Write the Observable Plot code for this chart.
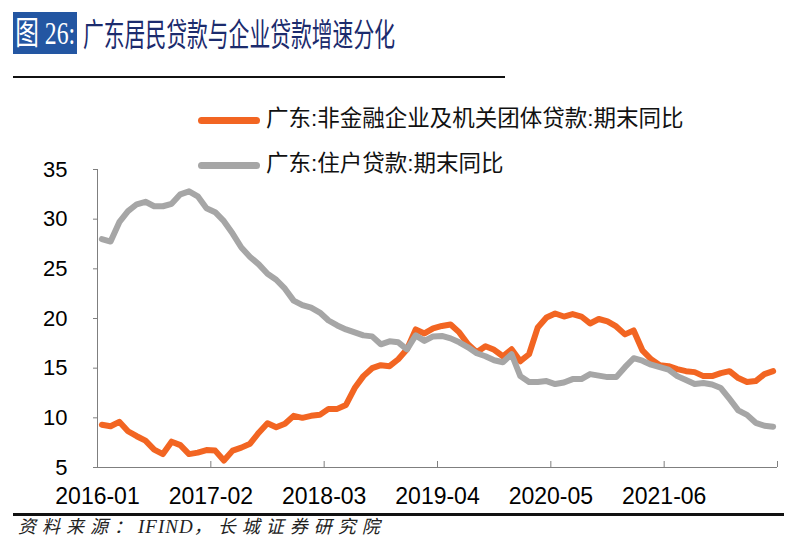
<!DOCTYPE html>
<html><head><meta charset="utf-8">
<script src="https://cdn.jsdelivr.net/npm/d3@7"></script>
<script src="https://cdn.jsdelivr.net/npm/@observablehq/plot@0.6"></script>
<style>
body{margin:0;background:#fff;width:812px;height:551px;position:relative;overflow:hidden;font-family:"Liberation Sans","Noto Sans CJK SC",sans-serif;}
#badge{position:absolute;left:13px;top:12px;width:64px;height:42px;background:#2356a2;color:#fff;overflow:hidden;}
#badge span{display:inline-block;white-space:nowrap;font-family:"Liberation Serif","Noto Sans CJK SC",serif;font-weight:normal;font-size:32px;line-height:42px;transform:scaleX(0.74);transform-origin:left center;padding-left:3px;}
#title{position:absolute;left:83px;top:11px;height:42px;color:#1b2b6d;white-space:nowrap;}
#title span{display:inline-block;font-family:"Noto Sans CJK SC",sans-serif;font-size:32px;line-height:42px;transform:scaleX(0.65);transform-origin:left center;}
.rule{position:absolute;background:#111;}
.lg-line{position:absolute;height:7px;border-radius:4px;}
.lg-text{position:absolute;font-size:22.5px;line-height:28px;color:#111;white-space:nowrap;}
#chart{position:absolute;left:0;top:95px;}
#source{position:absolute;left:18px;top:516px;font-family:"Liberation Serif","Noto Sans CJK SC",serif;font-style:italic;font-size:18px;line-height:22px;color:#222;white-space:nowrap;}
#source .cjk{letter-spacing:6px;}
#source .lat{letter-spacing:1px;font-size:19px;}
</style>
</head><body>
<div id="badge"><span>图 26:</span></div>
<div id="title"><span>广东居民贷款与企业贷款增速分化</span></div>
<div class="rule" style="left:13px;top:76px;width:492px;height:2px;"></div>
<div id="legend"></div>
<div id="chart"></div>
<div class="rule" style="left:13px;top:513px;width:771px;height:3px;"></div>
<div id="source"><span class="cjk">资料来源：</span><span class="lat">IFIND</span><span class="cjk">，长城证券研究院</span></div>
<script>
// categories: monthly, 2016-01 .. 2022-06
const startMonth = "2016-01";
const monthCount = 78;
const tickLabels = ["2016-01","2017-02","2018-03","2019-04","2020-05","2021-06"];
const yTicks = [5,10,15,20,25,30,35];
const seriesNames = ["广东:非金融企业及机关团体贷款:期末同比","广东:住户贷款:期末同比"];
const seriesColors = ["#f26522","#a6a6a6"];

// 广东:非金融企业及机关团体贷款:期末同比
const enterprise = [
 9.3, 9.15, 9.6, 8.65, 8.15, 7.7, 6.8, 6.35, 7.6, 7.25,
 6.35, 6.5, 6.75, 6.7, 5.7, 6.7, 7.0, 7.4, 8.5, 9.45,
 9.05, 9.4, 10.2, 10.0, 10.2, 10.3, 10.9, 10.9, 11.3, 13.0,
 14.2, 15.0, 15.3, 15.2, 15.9, 16.9, 18.9, 18.5, 19.0, 19.25,
 19.4, 18.6, 17.4, 16.6, 17.2, 16.85, 16.2, 16.9, 15.7, 16.4,
 19.1, 20.1, 20.5, 20.2, 20.45, 20.2, 19.5, 19.95, 19.7, 19.2,
 18.4, 18.8, 16.8, 15.9, 15.3, 15.2, 14.9, 14.7, 14.6, 14.2,
 14.2, 14.5, 14.7, 14.0, 13.6, 13.7, 14.4, 14.7
];
// 广东:住户贷款:期末同比
const household = [
 28.0, 27.75, 29.7, 30.8, 31.5, 31.75, 31.3, 31.3, 31.55, 32.5,
 32.8, 32.3, 31.1, 30.7, 29.8, 28.55, 27.15, 26.2, 25.45, 24.5,
 23.9, 23.0, 21.8, 21.35, 21.1, 20.6, 19.8, 19.3, 18.9, 18.6,
 18.3, 18.2, 17.4, 17.7, 17.6, 16.9, 18.3, 17.75, 18.2, 18.25,
 18.0, 17.6, 17.1, 16.5, 16.2, 15.8, 15.6, 16.4, 14.2, 13.6,
 13.6, 13.7, 13.4, 13.55, 13.9, 13.9, 14.4, 14.25, 14.1, 14.1,
 15.1, 16.0, 15.75, 15.35, 15.1, 14.85, 14.2, 13.8, 13.4, 13.5,
 13.35, 13.0, 11.9, 10.75, 10.3, 9.5, 9.2, 9.1
];

const fmt = d3.utcFormat("%Y-%m");
const start = d3.utcParse("%Y-%m")(startMonth);
const months = d3.utcMonth.range(start, d3.utcMonth.offset(start, monthCount)).map(fmt);

const rowsE = enterprise.map((v, i) => ({i, month: months[i], value: v}));
const rowsH = household.map((v, i) => ({i, month: months[i], value: v}));

// category boundaries (ticks between categories)
const boundaries = d3.range(0, monthCount + 1, 13).map(k => k - 0.5);
const labelTicks = tickLabels.map(l => months.indexOf(l) - 0.5);

// legend
const legend = document.getElementById("legend");
const lgY = [120, 165];
seriesNames.forEach((name, k) => {
  const line = document.createElement("div");
  line.className = "lg-line";
  line.style.left = "198px"; line.style.width = "62px";
  line.style.top = (lgY[k] - 3.5) + "px";
  line.style.background = seriesColors[k];
  legend.appendChild(line);
  const t = document.createElement("div");
  t.className = "lg-text";
  t.style.left = "266px"; t.style.top = (lgY[k] - 15) + "px";
  t.textContent = name;
  legend.appendChild(t);
});

const chart = Plot.plot({
  width: 812,
  height: 415,
  marginLeft: 97,
  marginRight: 35,
  marginTop: 74,
  marginBottom: 43,
  style: {fontFamily: '"Liberation Sans", Arial, sans-serif', background: "transparent", color: "#000"},
  x: {domain: [-0.5, monthCount - 0.5]},
  y: {domain: [5, 35]},
  marks: [
    Plot.axisY({ticks: yTicks, tickSize: 4, tickPadding: 26, fontSize: 22, stroke: "#7f7f7f", fill: "#000", label: null}),
    Plot.axisX({ticks: labelTicks, tickSize: 0, tickPadding: 20, fontSize: 23, fill: "#000", label: null,
      tickFormat: v => months[Math.round(v + 0.5)]}),
    Plot.tickX(boundaries, {x: d => d, stroke: "#7f7f7f", strokeWidth: 1, insetTop: 292}),
    Plot.ruleY([5], {stroke: "#7f7f7f", strokeWidth: 1}),
    Plot.ruleX([-0.5], {stroke: "#7f7f7f", strokeWidth: 1}),
    Plot.lineY(rowsE, {x: "i", y: "value", stroke: seriesColors[0], strokeWidth: 6, strokeLinejoin: "round", strokeLinecap: "round"}),
    Plot.lineY(rowsH, {x: "i", y: "value", stroke: seriesColors[1], strokeWidth: 6, strokeLinejoin: "round", strokeLinecap: "round"})
  ]
});
document.getElementById("chart").appendChild(chart);
</script>
</body></html>
